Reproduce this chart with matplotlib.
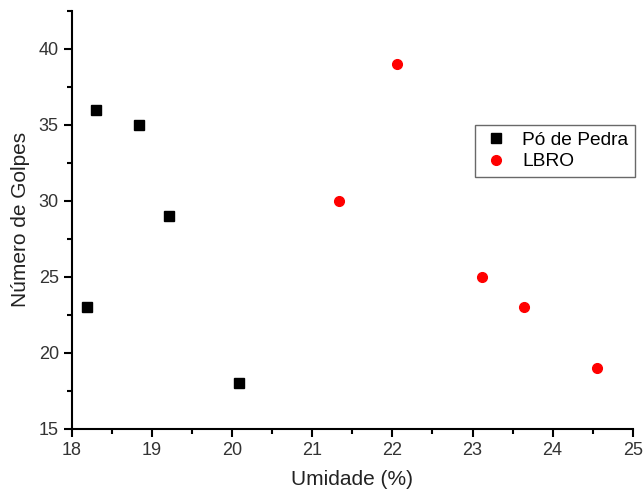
import numpy as np
import matplotlib
matplotlib.use('Agg')
import matplotlib.pyplot as plt
from matplotlib.ticker import MultipleLocator

plt.rcParams['font.family'] = ['Liberation Sans', 'DejaVu Sans']

# Pó de Pedra
pedra_umid = [18.19, 18.30, 18.84, 19.21, 20.09]
pedra_golpes = [23, 36, 35, 29, 18]
# LBRO
lbro_umid = [21.33, 22.06, 23.12, 23.64, 24.56]
lbro_golpes = [30, 39, 25, 23, 19]

fig = plt.figure(figsize=(6.43, 4.98), dpi=100)
ax = fig.add_axes([0.112, 0.139, 0.872, 0.839])

ax.plot(pedra_umid, pedra_golpes, 's', color='black', markersize=7, label='Pó de Pedra')
ax.plot(lbro_umid, lbro_golpes, 'o', color='red', markersize=7, label='LBRO')

ax.set_xlim(18, 25)
ax.set_ylim(15, 42.5)
ax.xaxis.set_major_locator(MultipleLocator(1))
ax.xaxis.set_minor_locator(MultipleLocator(0.5))
ax.yaxis.set_major_locator(MultipleLocator(5))
ax.yaxis.set_minor_locator(MultipleLocator(2.5))

for s in ['top', 'right']:
    ax.spines[s].set_visible(False)
for s in ['left', 'bottom']:
    ax.spines[s].set_linewidth(1.5)

ax.tick_params(which='major', direction='out', length=6, width=1.5, labelsize=13, labelcolor='#333333')
ax.tick_params(which='minor', direction='out', length=3.5, width=1.5)

ax.set_xlabel('Umidade (%)', fontsize=15, color='#222222', labelpad=8)
ax.set_ylabel('Número de Golpes', fontsize=15, color='#222222', labelpad=6)

leg = ax.legend(loc='upper right', bbox_to_anchor=(1.004, 0.727), borderaxespad=0,
                fontsize=13.8, frameon=True, fancybox=False, edgecolor='#444444',
                handletextpad=0.6, borderpad=0.35, labelspacing=0.2, handlelength=1.5)
leg.get_frame().set_linewidth(1.0)

plt.savefig('out.png', dpi=100)
